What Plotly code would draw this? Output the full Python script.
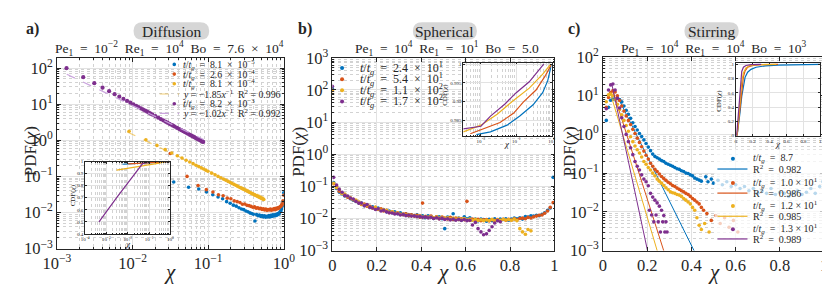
import plotly.graph_objects as go

W, H = 830, 284
FONT = "Liberation Serif, Tinos, Times New Roman, Times, DejaVu Serif, serif"
TXT = "#262626"
BLUE, RED, ORANGE, PURPLE = "#0072BD", "#D95319", "#EDB120", "#7E2F8E"
FIT_ORANGE = "rgba(237,177,32,0.6)"
FIT_PURPLE = "rgba(200,160,220,0.95)"
GRID = "#e2e2e2"
MINOR = "#d2d2d2"
ES = "\u2002"  # en space (math-like spacing)
TS = "\u2005"  # narrower space

# ================= DATA =================
# ---- panel a : Diffusion (log-log PDF) ----
a_blue_x = [0.035, 0.055, 0.075, 0.095, 0.115, 0.135, 0.155, 0.175, 0.195, 0.215,
            0.235, 0.255, 0.275, 0.295, 0.315, 0.335, 0.355, 0.375, 0.395, 0.415,
            0.435, 0.455, 0.475, 0.495, 0.515, 0.535, 0.555, 0.575, 0.595, 0.615,
            0.635, 0.655, 0.675, 0.695, 0.715, 0.735, 0.755, 0.775, 0.795, 0.815,
            0.835, 0.855, 0.875, 0.895, 0.915, 0.935, 0.955, 0.975, 0.995]
a_blue_y = [0.07, 0.05, 0.045, 0.037, 0.031, 0.027, 0.024, 0.02, 0.018, 0.016,
            0.015, 0.0135, 0.0125, 0.012, 0.011, 0.0105, 0.0098, 0.0094, 0.009, 0.0058,
            0.0088, 0.0082, 0.0085, 0.0078, 0.0083, 0.0076, 0.0081, 0.0074, 0.0079, 0.0076,
            0.0082, 0.0075, 0.0084, 0.0078, 0.0087, 0.008, 0.0086, 0.0082, 0.009, 0.0085,
            0.0093, 0.009, 0.0098, 0.0105, 0.011, 0.0125, 0.015, 0.02, 0.035]
a_red_x = [0.0315, 0.0525, 0.0735, 0.0945, 0.1155, 0.1365, 0.1575, 0.1785, 0.1995, 0.2205,
           0.2415, 0.2625, 0.2835, 0.3045, 0.3255, 0.3465, 0.3675, 0.3885, 0.4095, 0.4305,
           0.4515, 0.4725, 0.4935, 0.5145, 0.5355, 0.5565, 0.5775, 0.5985, 0.6195, 0.6405,
           0.6615, 0.6825, 0.7035, 0.7245, 0.7455, 0.7665, 0.7875, 0.8085, 0.8295, 0.8505,
           0.8715, 0.8925, 0.9135, 0.9345, 0.9555, 0.9765, 0.9975]
a_red_y = [0.43, 0.10, 0.056, 0.043, 0.037, 0.031, 0.029, 0.025, 0.024, 0.021,
           0.020, 0.019, 0.017, 0.0172, 0.0158, 0.0155, 0.0148, 0.014, 0.0143, 0.0132,
           0.0135, 0.0128, 0.013, 0.0122, 0.0127, 0.0118, 0.0124, 0.0115, 0.0121, 0.0117,
           0.0125, 0.0116, 0.0122, 0.0119, 0.0128, 0.012, 0.013, 0.0125, 0.0135, 0.013,
           0.014, 0.0145, 0.015, 0.016, 0.0175, 0.021, 0.03]
a_orange_x = [0.009, 0.015, 0.021, 0.027, 0.033, 0.039, 0.045, 0.051, 0.057, 0.063,
              0.069, 0.075, 0.081, 0.087, 0.093, 0.099, 0.111, 0.123, 0.135, 0.147,
              0.159, 0.171, 0.183, 0.195, 0.207, 0.219, 0.231, 0.243, 0.255, 0.267,
              0.279, 0.291, 0.303, 0.315, 0.327, 0.339, 0.351, 0.363, 0.375, 0.387,
              0.399, 0.411, 0.423, 0.435, 0.447, 0.459, 0.471, 0.483, 0.495, 0.507,
              0.519, 0.531, 0.543]
a_orange_y = [1.77, 1.03, 0.72, 0.55, 0.446, 0.374, 0.321, 0.281, 0.25, 0.225,
              0.204, 0.187, 0.172, 0.16, 0.149, 0.139, 0.123, 0.111, 0.1, 0.0916,
              0.0843, 0.078, 0.0726, 0.0679, 0.0637, 0.06, 0.0567, 0.0537, 0.0511, 0.0486,
              0.0464, 0.0444, 0.0425, 0.0408, 0.0392, 0.0378, 0.0364, 0.0351, 0.0339, 0.0328,
              0.0318, 0.0308, 0.0299, 0.029, 0.0282, 0.0274, 0.0267, 0.026, 0.0253, 0.0247,
              0.0241, 0.0235, 0.0229]
a_purple_x = [0.00134, 0.00223, 0.00312, 0.00401, 0.0049, 0.00579, 0.00668, 0.00757, 0.00846, 0.00935,
              0.01024, 0.01113, 0.01202, 0.01291, 0.0138, 0.01469, 0.01558, 0.01647, 0.01736, 0.01825,
              0.02003, 0.02181, 0.02359, 0.02537, 0.02715, 0.02893, 0.03071, 0.03249, 0.03427, 0.03605,
              0.03872, 0.04139, 0.04406, 0.04673, 0.0494, 0.05207, 0.05474, 0.05741, 0.06008, 0.06275,
              0.06542, 0.06809, 0.07076, 0.07343, 0.0761, 0.07877, 0.08144, 0.08411, 0.08589]
a_purple_y = [98.9, 55.6, 38.0, 28.6, 22.8, 18.9, 16.1, 13.9, 12.3, 11.0,
              9.91, 9.02, 8.26, 7.62, 7.07, 6.59, 6.17, 5.79, 5.46, 5.15,
              4.63, 4.21, 3.86, 3.56, 3.29, 3.06, 2.86, 2.69, 2.53, 2.39,
              2.2, 2.04, 1.9, 1.78, 1.67, 1.58, 1.49, 1.41, 1.34, 1.28,
              1.22, 1.16, 1.11, 1.07, 1.03, 0.99, 0.95, 0.92, 0.9]
a_fit_orange_x = [0.0085, 0.55]
a_fit_orange_y = [1.7, 0.026]
a_fit_purple_x = [0.00135, 0.087]
a_fit_purple_y = [67.0, 1.05]
TT = "<i>t</i>/<i>t<sub>g</sub></i>"
a_labels = [TT + ES + "=" + ES + "8.1" + ES + "×" + ES + "10<sup>−5</sup>",
            TT + ES + "=" + ES + "2.6" + ES + "×" + ES + "10<sup>−4</sup>",
            TT + ES + "=" + ES + "8.1" + ES + "×" + ES + "10<sup>−4</sup>",
            "<i>y</i>" + TS + "=" + TS + "−1.85<i>x</i><sup>−1</sup>" + ES + "R<sup>2</sup>" + TS + "=" + TS + "0.996",
            TT + ES + "=" + ES + "8.2" + ES + "×" + ES + "10<sup>−3</sup>",
            "<i>y</i>" + TS + "=" + TS + "−1.02<i>x</i><sup>−1</sup>" + ES + "R<sup>2</sup>" + TS + "=" + TS + "0.992"]
# inset a : CDF
a_cdf_blue_x = [0.0058, 0.03, 0.2, 1.0]
a_cdf_blue_y = [0.978, 0.985, 0.993, 1.0]
a_cdf_red_x = [0.0105, 0.05, 0.3, 1.0]
a_cdf_red_y = [0.982, 0.988, 0.995, 1.0]
a_cdf_orange_x = [0.003, 0.01, 0.03, 0.1, 0.3, 0.55]
a_cdf_orange_y = [0.93, 0.945, 0.958, 0.972, 0.988, 1.0]
a_cdf_purple_x = [0.00045, 0.00107, 0.00316, 0.01, 0.02, 0.048, 0.087]
a_cdf_purple_y = [0.5, 0.595, 0.705, 0.821, 0.891, 0.98, 1.0]

# ---- panel b : Spherical ----
b_chi = [0.0, 0.006, 0.019, 0.031, 0.044, 0.056, 0.069, 0.081, 0.094, 0.106,
         0.119, 0.131, 0.144, 0.156, 0.169, 0.181, 0.194, 0.206, 0.219, 0.231,
         0.244, 0.256, 0.269, 0.281, 0.294, 0.306, 0.319, 0.331, 0.344, 0.356,
         0.369, 0.381, 0.394, 0.406, 0.419, 0.431, 0.444, 0.456, 0.469, 0.481,
         0.494, 0.506, 0.519, 0.531, 0.544, 0.556, 0.569, 0.581, 0.594, 0.606,
         0.619, 0.631, 0.644, 0.656, 0.669, 0.681, 0.694, 0.706, 0.719, 0.731,
         0.744, 0.756, 0.769, 0.781, 0.794, 0.806, 0.819, 0.831, 0.844, 0.856,
         0.869, 0.881, 0.894, 0.906, 0.919, 0.931, 0.944, 0.956, 0.969, 0.981,
         0.994]
b_blue = [110, 0.13, 0.085, 0.066, 0.058, 0.05, 0.047, 0.041, 0.037, 0.034,
          0.030, 0.030, 0.025, 0.026, 0.022, 0.023, 0.020, 0.021, 0.018, 0.019,
          0.016, 0.017, 0.015, 0.016, 0.014, 0.015, 0.013, 0.014, 0.012, 0.013,
          0.012, 0.013, 0.011, 0.012, 0.0105, 0.012, 0.0115, 0.010, 0.011, 0.0112,
          0.0098, 0.0048, 0.011, 0.0105, 0.014, 0.0095, 0.0102, 0.0088, 0.0112, 0.0098,
          0.0105, 0.0089, 0.0095, 0.0084, 0.0095, 0.0092, 0.0082, 0.0094, 0.0085, 0.0098,
          0.0087, 0.0095, 0.0092, 0.0098, 0.0088, 0.0095, 0.0102, 0.0098, 0.0105, 0.0095,
          0.0115, 0.011, 0.012, 0.0118, 0.0125, 0.0122, 0.0135, 0.015, 0.018, 0.021,
          0.19]
b_red = [100, 0.12, 0.10, 0.07, 0.06, 0.052, 0.046, 0.042, 0.038, 0.035,
         0.031, 0.027, 0.028, 0.024, 0.024, 0.021, 0.022, 0.019, 0.02, 0.017,
         0.018, 0.015, 0.016, 0.0142, 0.015, 0.0135, 0.013, 0.0138, 0.0122, 0.013,
         0.0118, 0.0125, 0.011, 0.030, 0.0112, 0.0108, 0.0118, 0.0102, 0.0112, 0.0098,
         0.011, 0.0102, 0.0096, 0.0108, 0.0093, 0.0102, 0.0092, 0.0098, 0.0091, 0.034,
         0.0087, 0.0096, 0.0088, 0.0093, 0.0085, 0.009, 0.0092, 0.0084, 0.0091, 0.0087,
         0.0092, 0.0085, 0.0094, 0.0088, 0.0093, 0.0089, 0.0097, 0.0091, 0.0099, 0.0102,
         0.0098, 0.0108, 0.0103, 0.0112, 0.0118, 0.0125, 0.0128, 0.0145, 0.017, 0.022,
         0.031]
b_orange = [95, 0.125, 0.09, 0.078, 0.06, 0.057, 0.048, 0.045, 0.039, 0.037,
            0.033, 0.028, 0.026, 0.026, 0.022, 0.021, 0.022, 0.0195, 0.018, 0.0185,
            0.0175, 0.0158, 0.016, 0.0145, 0.0148, 0.0132, 0.014, 0.0128, 0.0132, 0.012,
            0.0125, 0.0115, 0.0122, 0.011, 0.0116, 0.0109, 0.0113, 0.0105, 0.011, 0.0102,
            0.0108, 0.01, 0.0105, 0.0097, 0.0102, 0.0095, 0.01, 0.0093, 0.0099, 0.009,
            0.0096, 0.0088, 0.0094, 0.0086, 0.0091, 0.0085, 0.0089, 0.0086, 0.0093, 0.0084,
            0.009, 0.0087, 0.0094, 0.0089, 0.0092, 0.0088, 0.0095, 0.0085, 0.0048, 0.0038,
            0.0032, 0.0045, 0.0041, None, None, None, None, None, None, None,
            None]
b_purple = [130, 0.19, 0.11, 0.08, 0.065, 0.052, 0.05, 0.043, 0.04, 0.034,
            0.03, 0.03, 0.025, 0.027, 0.022, 0.021, 0.019, 0.02, 0.017, 0.018,
            0.016, 0.015, 0.0148, 0.0138, 0.014, 0.0128, 0.0134, 0.0122, 0.0128, 0.0118,
            0.012, 0.0113, 0.0116, 0.0108, 0.0112, 0.0104, 0.0108, 0.0099, 0.0105, 0.0097,
            0.0102, 0.0093, 0.0098, 0.009, 0.0096, 0.0088, 0.0094, 0.0087, 0.0092, 0.0085,
            0.0088, 0.0062, 0.0075, 0.0048, 0.0038, 0.0031, 0.0033, 0.0042, 0.0055, 0.0072,
            0.0085, 0.0079, None, None, None, None, None, None, None, None,
            None, None, None, None, None, None, None, None, None, None,
            None]
b_labels = [TT + ES + "=" + ES + "2.4" + ES + "×" + ES + "10<sup>1</sup>",
            TT + ES + "=" + ES + "5.4" + ES + "×" + ES + "10<sup>1</sup>",
            TT + ES + "=" + ES + "1.1" + ES + "×" + ES + "10<sup>2</sup>",
            TT + ES + "=" + ES + "1.7" + ES + "×" + ES + "10<sup>2</sup>"]
# inset b : CDF
b_cdf_blue_x = [0.0074, 0.0186, 0.055, 0.126, 0.30, 0.56, 0.78, 1.0]
b_cdf_blue_y = [0.9813, 0.982, 0.9838, 0.9862, 0.9892, 0.9924, 0.9956, 1.0]
b_cdf_red_x = [0.005, 0.0126, 0.0347, 0.085, 0.158, 0.363, 0.676, 1.0]
b_cdf_red_y = [0.9815, 0.983, 0.9845, 0.987, 0.9899, 0.9931, 0.997, 1.0]
b_cdf_orange_x = [0.00316, 0.01, 0.0288, 0.085, 0.234, 0.562, 0.95]
b_cdf_orange_y = [0.982, 0.9838, 0.9867, 0.9904, 0.9936, 0.9973, 1.0]
b_cdf_purple_x = [0.00316, 0.01, 0.0186, 0.0479, 0.1, 0.234, 0.60]
b_cdf_purple_y = [0.9828, 0.9835, 0.9862, 0.9894, 0.9924, 0.9953, 1.0]

# ---- panel c : Stirring ----
c_blue_x = [0.015, 0.025, 0.035, 0.045, 0.055, 0.065, 0.075, 0.085, 0.095, 0.105,
            0.115, 0.125, 0.135, 0.145, 0.155, 0.165, 0.175, 0.185, 0.195, 0.205,
            0.215, 0.225, 0.235, 0.245, 0.255, 0.265, 0.275, 0.285, 0.295, 0.305,
            0.315, 0.325, 0.335, 0.345, 0.355, 0.365, 0.375, 0.385, 0.395, 0.405,
            0.415, 0.425, 0.435, 0.445,
            0.465, 0.475, 0.49, 0.5, 0.52, 0.54, 0.56, 0.58, 0.6, 0.62,
            0.64, 0.66, 0.68, 0.7, 0.72, 0.74, 0.76, 0.78, 0.8, 0.82,
            0.84, 0.86, 0.88, 0.9, 0.92, 0.94, 0.96, 0.98, 0.995]
c_blue_y = [2.3, 5.0, 7.6, 8.2, 7.9, 8.6, 8.0, 6.9, 5.4, 4.2,
            3.3, 2.6, 2.0, 1.6, 1.3, 1.05, 0.88, 0.72, 0.58, 0.47,
            0.38, 0.31, 0.27, 0.25, 0.23, 0.21, 0.20, 0.18, 0.17, 0.16,
            0.15, 0.14, 0.13, 0.125, 0.115, 0.11, 0.10, 0.098, 0.09, 0.085,
            0.075, 0.07, 0.066, 0.062,
            0.08, 0.06, 0.07, 0.055, 0.065, 0.05, 0.06, 0.045, 0.05, 0.04,
            0.045, 0.035, 0.04, 0.03, 0.035, 0.03, 0.04, 0.028, 0.032, 0.03,
            0.025, 0.03, 0.035, 0.028, 0.032, 0.04, 0.03, 0.045, 0.06]
c_red_x = [0.015, 0.025, 0.035, 0.045, 0.055, 0.065, 0.075, 0.085, 0.095, 0.105,
           0.115, 0.125, 0.135, 0.145, 0.155, 0.165, 0.175, 0.185, 0.195, 0.205,
           0.215, 0.225, 0.235, 0.245, 0.255, 0.265, 0.275, 0.285, 0.295, 0.305,
           0.315, 0.325, 0.335, 0.345, 0.355, 0.365, 0.375, 0.385, 0.395, 0.405,
           0.415, 0.425, 0.435, 0.445, 0.455,
           0.47, 0.49, 0.51, 0.53, 0.55, 0.57, 0.59, 0.61]
c_red_y = [5, 9, 12, 13.5, 12.5, 10, 7.5, 5.4, 4.0, 3.0,
           2.3, 1.8, 1.35, 1.05, 0.8, 0.62, 0.48, 0.37, 0.29, 0.23,
           0.18, 0.15, 0.125, 0.11, 0.095, 0.082, 0.072, 0.065, 0.058, 0.053,
           0.048, 0.045, 0.041, 0.038, 0.035, 0.033, 0.030, 0.028, 0.025, 0.022,
           0.02, 0.018, 0.016, 0.013, 0.011,
           0.009, 0.006, 0.008, 0.005, 0.007, 0.004, 0.006, 0.003]
c_orange_x = [0.015, 0.025, 0.035, 0.045, 0.055, 0.065, 0.075, 0.085, 0.095, 0.105,
              0.115, 0.125, 0.135, 0.145, 0.155, 0.165, 0.175, 0.185, 0.195, 0.205,
              0.215, 0.225, 0.235, 0.245, 0.255, 0.265, 0.275, 0.285, 0.295, 0.305,
              0.315, 0.325, 0.335, 0.345, 0.355, 0.365, 0.375, 0.385, 0.395, 0.405,
              0.415, 0.425, 0.435, 0.445,
              0.46, 0.48]
c_orange_y = [7, 10.5, 11, 10, 8, 6, 4.4, 3.2, 2.3, 1.7,
              1.2, 0.87, 0.65, 0.5, 0.4, 0.33, 0.26, 0.2, 0.17, 0.14,
              0.12, 0.1, 0.085, 0.07, 0.062, 0.055, 0.048, 0.042, 0.037, 0.033,
              0.031, 0.03, 0.028, 0.027, 0.025, 0.022, 0.02, 0.018, 0.016, 0.013,
              0.011, 0.007, 0.0045, 0.0035,
              0.005, 0.003]
c_purple_x = [0.015, 0.025, 0.035, 0.045, 0.055, 0.065, 0.075, 0.085, 0.095, 0.105,
              0.115, 0.125, 0.135, 0.145, 0.155, 0.165, 0.175, 0.185, 0.195, 0.205,
              0.215, 0.225, 0.235, 0.245, 0.255, 0.265, 0.275, 0.285,
              0.21, 0.22, 0.23, 0.24, 0.25, 0.26, 0.27, 0.28, 0.29]
c_purple_y = [4.6, 14, 19, 20, 14, 8.5, 4.8, 2.7, 1.6, 1.0,
              0.65, 0.45, 0.3, 0.2, 0.15, 0.12, 0.09, 0.07, 0.06, 0.047,
              0.03, 0.024, 0.02, 0.017, 0.014, 0.011, 0.008, 0.0055,
              0.011, 0.0083, 0.0055, 0.0083, 0.0055, 0.003, 0.0055, 0.003, 0.003]
c_fit_blue_x = [0.07, 0.42]
c_fit_blue_y = [8.5, 0.0008]
c_fit_red_x = [0.045, 0.28]
c_fit_red_y = [13.0, 0.0008]
c_fit_orange_x = [0.035, 0.25]
c_fit_orange_y = [11.0, 0.0008]
c_fit_purple_x = [0.04, 0.205]
c_fit_purple_y = [20.0, 0.0008]
c_labels = [TT + ES + "=" + ES + "8.7",
            "R<sup>2</sup>" + ES + "=" + ES + "0.982",
            TT + ES + "=" + ES + "1.0" + TS + "×" + TS + "10<sup>1</sup>",
            "R<sup>2</sup>" + ES + "=" + ES + "0.986",
            TT + ES + "=" + ES + "1.2" + TS + "×" + TS + "10<sup>1</sup>",
            "R<sup>2</sup>" + ES + "=" + ES + "0.985",
            TT + ES + "=" + ES + "1.3" + TS + "×" + TS + "10<sup>1</sup>",
            "R<sup>2</sup>" + ES + "=" + ES + "0.989"]
# inset c : CDF
c_cdf_blue_x = [0.015, 0.03, 0.05, 0.07, 0.09, 0.11, 0.14, 0.18, 0.24, 0.35, 0.5, 0.7, 1.0]
c_cdf_blue_y = [0.0, 0.12, 0.33, 0.55, 0.72, 0.82, 0.89, 0.93, 0.96, 0.98, 0.99, 0.995, 1.0]
c_cdf_red_x = [0.015, 0.03, 0.05, 0.07, 0.09, 0.11, 0.14, 0.2, 0.3, 0.5]
c_cdf_red_y = [0.0, 0.17, 0.45, 0.68, 0.83, 0.91, 0.96, 0.985, 0.995, 1.0]
c_cdf_orange_x = [0.015, 0.03, 0.05, 0.07, 0.09, 0.12, 0.16, 0.25, 0.48]
c_cdf_orange_y = [0.0, 0.2, 0.52, 0.75, 0.88, 0.95, 0.98, 0.995, 1.0]
c_cdf_purple_x = [0.01, 0.025, 0.04, 0.055, 0.07, 0.09, 0.12, 0.18, 0.3]
c_cdf_purple_y = [0.0, 0.22, 0.55, 0.78, 0.9, 0.96, 0.985, 0.997, 1.0]

# ---- ticks & titles ----
dec_vals = [1e-4, 1e-3, 1e-2, 1e-1, 1, 10, 100, 1000]
dec_text = ["10<sup>−4</sup>", "10<sup>−3</sup>", "10<sup>−2</sup>", "10<sup>−1</sup>",
            "10<sup>0</sup>", "10<sup>1</sup>", "10<sup>2</sup>", "10<sup>3</sup>"]
lin_vals = [0, 0.2, 0.4, 0.6, 0.8, 1.0]
lin_text = ["0", "0.2", "0.4", "0.6", "0.8", "1"]
ia_y_vals = [0.4, 0.5, 0.6, 0.7, 0.8, 0.9, 1.0]
ia_y_text = ["0.4", "0.5", "0.6", "0.7", "0.8", "0.9", "1"]
ib_y_vals = [0.985, 0.99, 0.995, 1.0]
ib_y_text = ["0.985", "0.99", "0.995", "1"]
panel_tags = ["<b>a)</b>", "<b>b)</b>", "<b>c)</b>"]
panel_names = ["Diffusion", "Spherical", "Stirring"]
panel_titles = ["Pe<sub>1</sub>" + ES + "=" + ES + "10<sup>−2</sup>" + ES + "Re<sub>1</sub>" + ES + "=" + ES + "10<sup>4</sup>" + ES + "Bo" + ES + "=" + ES + "7.6" + ES + "×" + ES + "10<sup>4</sup>",
                "Pe<sub>1</sub>" + ES + "=" + ES + "10<sup>4</sup>" + ES + "Re<sub>1</sub>" + ES + "=" + ES + "10<sup>1</sup>" + ES + "Bo" + ES + "=" + ES + "5.0",
                "Pe<sub>1</sub>" + ES + "=" + ES + "10<sup>4</sup>" + ES + "Re<sub>1</sub>" + ES + "=" + ES + "10<sup>4</sup>" + ES + "Bo" + ES + "=" + ES + "10<sup>3</sup>"]

# ================= FIGURE =================
def fx(p):
    return p / W

def fy(p):
    return 1 - p / H

fig = go.Figure()

def pts(x, y, color, ax, size=3.6):
    fig.add_trace(go.Scatter(x=x, y=y, mode="markers", xaxis=ax[0], yaxis=ax[1],
                             marker=dict(size=size, color=color, line=dict(width=0)),
                             showlegend=False, hoverinfo="skip"))

def line(x, y, color, ax, width=1.2, dash="solid"):
    fig.add_trace(go.Scatter(x=x, y=y, mode="lines", xaxis=ax[0], yaxis=ax[1],
                             line=dict(color=color, width=width, dash=dash),
                             showlegend=False, hoverinfo="skip"))

A, B, C = ("x", "y"), ("x2", "y2"), ("x3", "y3")
IA, IB, IC = ("x4", "y4"), ("x5", "y5"), ("x6", "y6")

# panel a
pts(a_blue_x, a_blue_y, BLUE, A)
pts(a_red_x, a_red_y, RED, A)
pts(a_orange_x, a_orange_y, ORANGE, A)
line(a_fit_orange_x, a_fit_orange_y, FIT_ORANGE, A, 1.2, "dash")
pts(a_purple_x, a_purple_y, PURPLE, A, 4.2)
line(a_fit_purple_x, a_fit_purple_y, FIT_PURPLE, A, 1.2, "dash")
# inset a
line(a_cdf_blue_x, a_cdf_blue_y, BLUE, IA)
line(a_cdf_red_x, a_cdf_red_y, RED, IA)
line(a_cdf_orange_x, a_cdf_orange_y, ORANGE, IA)
line(a_cdf_purple_x, a_cdf_purple_y, PURPLE, IA)

# panel b
pts(b_chi, b_blue, BLUE, B)
pts(b_chi, b_red, RED, B)
pts(b_chi, b_orange, ORANGE, B)
pts(b_chi, b_purple, PURPLE, B)
line(b_cdf_blue_x, b_cdf_blue_y, BLUE, IB)
line(b_cdf_red_x, b_cdf_red_y, RED, IB)
line(b_cdf_orange_x, b_cdf_orange_y, ORANGE, IB)
line(b_cdf_purple_x, b_cdf_purple_y, PURPLE, IB)

# panel c
pts(c_blue_x, c_blue_y, BLUE, C)
line(c_fit_blue_x, c_fit_blue_y, BLUE, C, 1.0)
pts(c_red_x, c_red_y, RED, C)
line(c_fit_red_x, c_fit_red_y, RED, C, 1.0)
pts(c_orange_x, c_orange_y, ORANGE, C)
line(c_fit_orange_x, c_fit_orange_y, ORANGE, C, 1.0)
pts(c_purple_x, c_purple_y, PURPLE, C)
line(c_fit_purple_x, c_fit_purple_y, PURPLE, C, 1.0)
line(c_cdf_blue_x, c_cdf_blue_y, BLUE, IC)
line(c_cdf_red_x, c_cdf_red_y, RED, IC)
line(c_cdf_orange_x, c_cdf_orange_y, ORANGE, IC)
line(c_cdf_purple_x, c_cdf_purple_y, PURPLE, IC)

# ---- axes ----
def axis(domain, anchor, tickvals, ticktext, rng, log=False, size=16.5, ticklen=4, minor_log=False, grid=True):
    d = dict(domain=domain, anchor=anchor, range=rng, tickmode="array", tickvals=tickvals, ticktext=ticktext,
             showline=True, linecolor=TXT, linewidth=0.8, mirror="allticks", ticks="inside", ticklen=ticklen,
             tickcolor=TXT, tickwidth=0.7, showgrid=grid, gridcolor=GRID, gridwidth=0.8, zeroline=False,
             tickfont=dict(family=FONT, size=size, color=TXT), fixedrange=True)
    if log:
        d["type"] = "log"
    if minor_log:
        d["minor"] = dict(dtick="D1", ticks="inside", ticklen=ticklen * 0.5, tickcolor=TXT, tickwidth=0.5,
                          showgrid=True, gridcolor=MINOR, griddash="dot", gridwidth=0.6)
    return d

ya_dom = [fy(248), fy(42)]
yb_dom = [fy(250), fy(42)]
yc_dom = [fy(250), fy(41)]
fig.update_layout(
    xaxis=axis([fx(36), fx(270)], "y", dec_vals, dec_text, [-3, 0], log=True, minor_log=True),
    yaxis=axis(ya_dom, "x", dec_vals, dec_text, [-3, 2.28], log=True, minor_log=True),
    xaxis2=axis([fx(320), fx(549)], "y2", lin_vals, lin_text, [0, 1]),
    yaxis2=axis(yb_dom, "x2", dec_vals, dec_text, [-3, 3], log=True, minor_log=True),
    xaxis3=axis([fx(599), fx(827)], "y3", lin_vals, lin_text, [0, 1]),
    yaxis3=axis(yc_dom, "x3", dec_vals, dec_text, [-3, 2], log=True, minor_log=True),
    xaxis4=axis([fx(65), fx(153)], "y4", dec_vals, dec_text, [-4, 0], log=True, size=5, ticklen=2, minor_log=True),
    yaxis4=axis([fy(232), fy(154)], "x4", ia_y_vals, ia_y_text, [0.4, 1.0], size=5, ticklen=2),
    xaxis5=axis([fx(455), fx(546)], "y5", dec_vals, dec_text, [-2.5, 0], log=True, size=5, ticklen=2, minor_log=True),
    yaxis5=axis([fy(126), fy(47)], "x5", ib_y_vals, ib_y_text, [0.981, 1.0004], size=5, ticklen=2),
    xaxis6=axis([fx(736), fx(823)], "y6", lin_vals, lin_text, [0, 1], size=5, ticklen=2),
    yaxis6=axis([fy(126), fy(47)], "x6", lin_vals, lin_text, [0, 1.026], size=5, ticklen=2),
)

# ---- annotations / shapes ----
annotations = []
shapes = []

def ann(text, x, y, size, xanchor="center", yanchor="middle", angle=0, color=TXT):
    annotations.append(dict(text=text, x=fx(x), y=fy(y), xref="paper", yref="paper", showarrow=False,
                            xanchor=xanchor, yanchor=yanchor, textangle=angle,
                            font=dict(family=FONT, size=size, color=color)))

def rounded_box(x0, y0, x1, y1, r, color):
    def P(x, y):
        return f"{fx(x):.5f},{fy(y):.5f}"
    path = (f"M {P(x0 + r, y0)} L {P(x1 - r, y0)} Q {P(x1, y0)} {P(x1, y0 + r)} L {P(x1, y1 - r)} "
            f"Q {P(x1, y1)} {P(x1 - r, y1)} L {P(x0 + r, y1)} Q {P(x0, y1)} {P(x0, y1 - r)} "
            f"L {P(x0, y0 + r)} Q {P(x0, y0)} {P(x0 + r, y0)} Z")
    shapes.append(dict(type="path", path=path, xref="paper", yref="paper", fillcolor=color,
                       line=dict(width=0), layer="above"))

def leg_dot(x, y, color, d=3.6):
    shapes.append(dict(type="circle", xref="paper", yref="paper", xsizemode="pixel", ysizemode="pixel",
                       xanchor=fx(x), yanchor=fy(y), x0=-d / 2, x1=d / 2, y0=-d / 2, y1=d / 2,
                       fillcolor=color, line=dict(width=0), layer="above"))

def leg_line(x0, x1, y, color, dash="solid", width=1.2):
    shapes.append(dict(type="line", xref="paper", yref="paper", x0=fx(x0), x1=fx(x1), y0=fy(y), y1=fy(y),
                       line=dict(color=color, width=width, dash=dash), layer="above"))

# panel headers
tag_x = [2, 283, 561]
box_x = [(115, 193), (403, 469), (683, 739)]
title_cx = [152, 438, 713]
for i in range(3):
    ann(panel_tags[i], tag_x[i], 11, 16, xanchor="left")
    rounded_box(box_x[i][0], 3.5, box_x[i][1], 22.5, 9.5, "#d6d6d6")
    ann(panel_names[i], (box_x[i][0] + box_x[i][1]) / 2, 13.5, 15.5)
    ann(panel_titles[i], title_cx[i], 32, 13.5)

# axis titles
for xp in (9, 285, 564):
    ann("PDF(<i>χ</i>)", xp, 143, 17, angle=-90)
for xp, yp in ((153, 273), (434, 273), (713, 273)):
    ann("<i>χ</i>", xp, yp, 21)
# inset titles
ann("CDF(<i>χ</i>)", 53, 190, 7, angle=-90)
ann("<i>χ</i>", 109, 243, 9)
ann("CDF(<i>χ</i>)", 436, 82, 7, angle=-90)
ann("<i>χ</i>", 500, 135, 9)
ann("CDF(<i>χ</i>)", 719, 88, 7, angle=-90)
ann("<i>χ</i>", 779, 135, 9)

# legend a (transparent)
la_rows = [49, 59.5, 70, 81, 91.5, 102]
la_kind = [("dot", BLUE), ("dot", RED), ("dot", ORANGE), ("dash", FIT_ORANGE), ("dot", PURPLE), ("dash", FIT_PURPLE)]
for yv, (kind, col), lab in zip(la_rows, la_kind, a_labels):
    if kind == "dot":
        leg_dot(157, yv, col)
    else:
        leg_line(142, 162, yv, col, "dash")
    ann(lab, 164, yv, 9.8, xanchor="left")

# legend b
lb_rows = [53, 65, 77, 89]
for yv, col, lab in zip(lb_rows, [BLUE, RED, ORANGE, PURPLE], b_labels):
    leg_dot(330, yv, col, 4)
    ann(lab, 346, yv, 12, xanchor="left")

# legend c (semi-transparent box)
shapes.append(dict(type="rect", xref="paper", yref="paper", x0=fx(714), x1=fx(827), y0=fy(246), y1=fy(141),
                   fillcolor="rgba(255,255,255,0.72)", line=dict(width=0), layer="above"))
lc_rows = [151, 162, 177, 188, 202, 213, 227, 237.5]
lc_cols = [BLUE, BLUE, RED, RED, ORANGE, ORANGE, PURPLE, PURPLE]
for i, (yv, col, lab) in enumerate(zip(lc_rows, lc_cols, c_labels)):
    if i % 2 == 0:
        leg_dot(733, yv, col, 4)
    else:
        leg_line(717, 748, yv, col, "solid", 1.2)
    ann(lab, 752, yv, 10, xanchor="left")

fig.update_layout(annotations=annotations, shapes=shapes, width=W, height=H,
                  margin=dict(l=0, r=0, t=0, b=0), paper_bgcolor="white", plot_bgcolor="white",
                  showlegend=False, font=dict(family=FONT, color=TXT))
fig.write_html("out.html")
